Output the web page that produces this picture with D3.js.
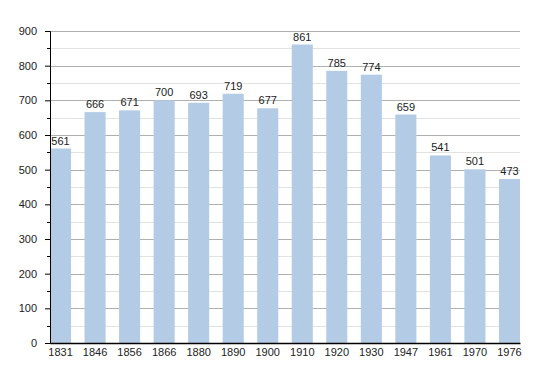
<!DOCTYPE html>
<html>
<head>
<meta charset="utf-8">
<script src="https://cdn.jsdelivr.net/npm/d3@7"></script>
<style>
  body { margin: 0; background: #fff; }
</style>
</head>
<body>
<div id="chart"></div>
<script>
const years = ["1831", "1846", "1856", "1866", "1880", "1890", "1900", "1910", "1920", "1930", "1947", "1961", "1970", "1976"];
const population = [561, 666, 671, 700, 693, 719, 677, 861, 785, 774, 659, 541, 501, 473];
const yTicks = [0, 100, 200, 300, 400, 500, 600, 700, 800, 900];
const yMinor = [50, 150, 250, 350, 450, 550, 650, 750, 850];

const width = 550, height = 373;
const margin = { top: 31, right: 30, bottom: 30, left: 50 };

const svg = d3.select("#chart")
    .append("svg")
    .attr("width", width)
    .attr("height", height)
    .style("font-family", "Liberation Sans, Arial, sans-serif");

const x = d3.scaleBand()
    .domain(years)
    .range([margin.left, width - margin.right])
    .paddingInner(0.39)
    .paddingOuter(0);

const y = d3.scaleLinear()
    .domain([0, 900])
    .range([height - margin.bottom, margin.top]);

// minor grid
svg.append("g")
    .selectAll("line")
    .data(yMinor)
    .join("line")
        .attr("x1", margin.left)
        .attr("x2", width - margin.right)
        .attr("y1", d => Math.round(y(d)) + 0.5)
        .attr("y2", d => Math.round(y(d)) + 0.5)
        .attr("stroke", "#e2e2e2");

// major grid
svg.append("g")
    .selectAll("line")
    .data(yTicks.slice(1))
    .join("line")
        .attr("x1", margin.left)
        .attr("x2", width - margin.right)
        .attr("y1", d => Math.round(y(d)) + 0.5)
        .attr("y2", d => Math.round(y(d)) + 0.5)
        .attr("stroke", "#b0b0b0");

// bars
svg.append("g")
    .selectAll("rect")
    .data(population)
    .join("rect")
        .attr("x", (d, i) => x(years[i]))
        .attr("y", d => y(d))
        .attr("width", x.bandwidth())
        .attr("height", d => y(0) - y(d))
        .attr("fill", "#b3cbe5");

// value labels
svg.append("g")
    .selectAll("text")
    .data(population)
    .join("text")
        .attr("x", (d, i) => x(years[i]) + x.bandwidth() / 2)
        .attr("y", d => y(d) - 4)
        .attr("text-anchor", "middle")
        .attr("font-size", "11px")
        .attr("fill", "#222")
        .text(d => d);

// y axis
const yAxis = svg.append("g")
    .attr("transform", `translate(${margin.left},0)`)
    .call(d3.axisLeft(y).tickValues(yTicks).tickSize(5).tickPadding(8).tickFormat(d3.format("d")));
yAxis.select(".domain").attr("stroke", "#000");
yAxis.selectAll(".tick text").attr("font-size", "11px").attr("fill", "#222").style("font-family", "Liberation Sans, Arial, sans-serif");

svg.append("g")
    .attr("transform", `translate(${margin.left},0)`)
    .selectAll("line")
    .data(yMinor)
    .join("line")
        .attr("x1", -3)
        .attr("x2", 0)
        .attr("y1", d => Math.round(y(d)) + 0.5)
        .attr("y2", d => Math.round(y(d)) + 0.5)
        .attr("stroke", "#000");

// x axis
const xAxis = svg.append("g")
    .attr("transform", `translate(0,${y(0)})`)
    .call(d3.axisBottom(x).tickSize(0).tickPadding(5));
xAxis.select(".domain").attr("stroke", "#000").attr("stroke-width", 1.5);
xAxis.selectAll(".tick text").attr("font-size", "11px").attr("fill", "#222").style("font-family", "Liberation Sans, Arial, sans-serif");
</script>
</body>
</html>
